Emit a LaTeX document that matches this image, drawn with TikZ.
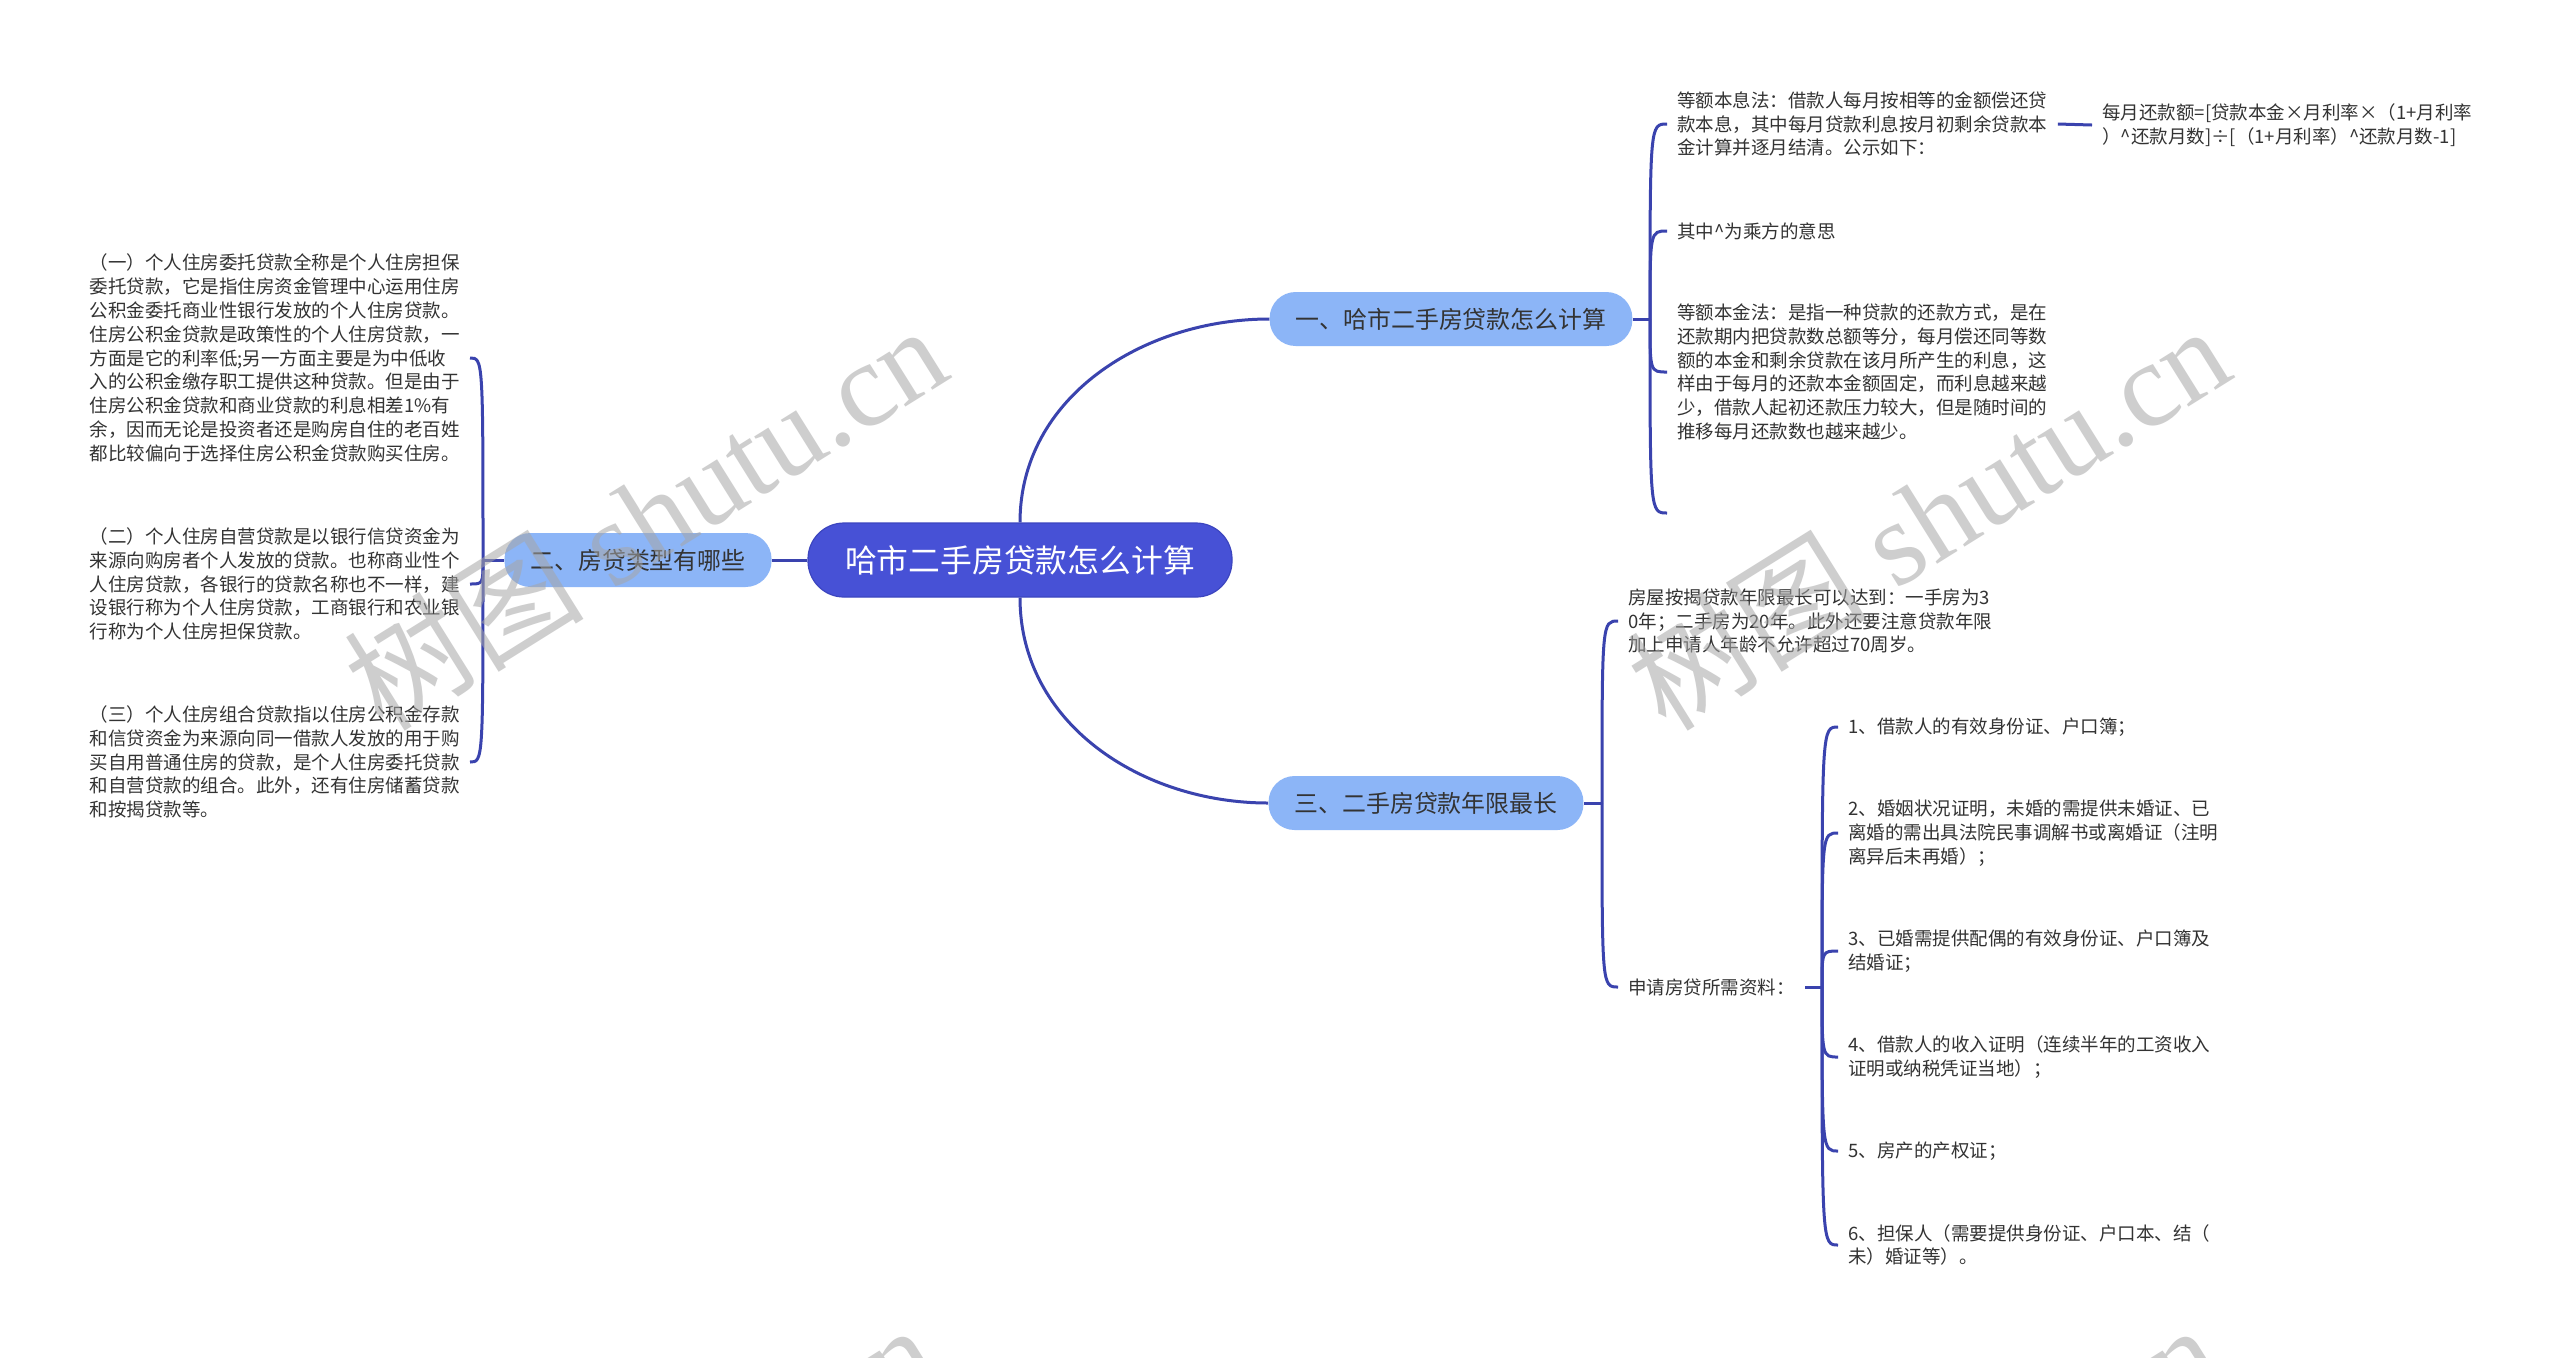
\documentclass[tikz,border=0pt]{standalone}
\usepackage{fontspec}
\newfontfamily\cjk{Noto Sans CJK SC}
\newfontfamily\wmserif{Liberation Serif}
\definecolor{Ink}{HTML}{333333}
\definecolor{Root}{HTML}{4751D6}
\definecolor{RootEdge}{HTML}{3C45BF}
\definecolor{Topic}{HTML}{8CB5F7}
\definecolor{Wire}{HTML}{3A43AE}

\begin{document}
\begin{tikzpicture}[x=.5pt,y=-.5pt,
  rootbox/.style={fill=Root,draw=RootEdge,line width=.6pt,rounded corners=18pt,minimum width=212pt,minimum height=37pt,text=white,font=\cjk\fontsize{15.9pt}{19pt}\selectfont},
  topic/.style={fill=Topic,rounded corners=13pt,minimum height=27pt,inner xsep=13pt,text=Ink,font=\cjk\fontsize{11.95pt}{14pt}\selectfont},
  leaf/.style={inner xsep=5pt,inner ysep=0pt,align=left,text=Ink,font=\cjk\fontsize{9.25pt}{11.9pt}\selectfont},
  wire/.style={draw=Wire,line width=1.5pt},
  wmark/.style={text=black!35,opacity=.55,rotate=32,font=\wmserif\fontsize{60pt}{64pt}\selectfont}]
\useasboundingbox[fill=white] (0,0) rectangle (2560,1357);

\node[rootbox] (root) at (1020,560) {哈市二手房贷款怎么计算};
\node[topic] (b1) at (1451,319) {一、哈市二手房贷款怎么计算};
\node[topic] (b2) at (638,560) {二、房贷类型有哪些};
\node[topic] (b3) at (1426,803) {三、二手房贷款年限最长};

\draw[wire] (root.north) to[out=90,in=180] (b1.west);
\draw[wire] (root.south) to[out=-90,in=180] (b3.west);
\draw[wire] (root.west) -- (b2.east);

\node[leaf,anchor=west] (c11) at (1667,124) {等额本息法：借款人每月按相等的金额偿还贷\\款本息，其中每月贷款利息按月初剩余贷款本\\金计算并逐月结清。公示如下：};
\node[leaf,anchor=west] (f1) at (2092,125) {每月还款额=[贷款本金×月利率×（1+月利率\\）\textasciicircum{}还款月数]÷[（1+月利率）\textasciicircum{}还款月数-1]};
\node[leaf,anchor=west] (c12) at (1667,231) {其中\textasciicircum{}为乘方的意思};
\node[leaf,anchor=west] (c13) at (1667,372) {等额本金法：是指一种贷款的还款方式，是在\\还款期内把贷款数总额等分，每月偿还同等数\\额的本金和剩余贷款在该月所产生的利息，这\\样由于每月的还款本金额固定，而利息越来越\\少，借款人起初还款压力较大，但是随时间的\\推移每月还款数也越来越少。};
\node[leaf,anchor=west] (c14) at (1667,513) {};
\coordinate (k1) at (1650,319);
\draw[wire] (b1.east) -- (k1);
\foreach \c in {c11,c12,c13,c14}
  \draw[wire] (k1) .. controls (k1 |- \c.west) .. (\c.west);
\draw[wire] (c11.east) -- (f1.west);

\node[leaf,anchor=east] (c21) at (470,358) {（一）个人住房委托贷款全称是个人住房担保\\委托贷款，它是指住房资金管理中心运用住房\\公积金委托商业性银行发放的个人住房贷款。\\住房公积金贷款是政策性的个人住房贷款，一\\方面是它的利率低;另一方面主要是为中低收\\入的公积金缴存职工提供这种贷款。但是由于\\住房公积金贷款和商业贷款的利息相差1\%有\\余，因而无论是投资者还是购房自住的老百姓\\都比较偏向于选择住房公积金贷款购买住房。};
\node[leaf,anchor=east] (c22) at (470,584) {（二）个人住房自营贷款是以银行信贷资金为\\来源向购房者个人发放的贷款。也称商业性个\\人住房贷款，各银行的贷款名称也不一样，建\\设银行称为个人住房贷款，工商银行和农业银\\行称为个人住房担保贷款。};
\node[leaf,anchor=east] (c23) at (470,762) {（三）个人住房组合贷款指以住房公积金存款\\和信贷资金为来源向同一借款人发放的用于购\\买自用普通住房的贷款，是个人住房委托贷款\\和自营贷款的组合。此外，还有住房储蓄贷款\\和按揭贷款等。};
\coordinate (k2) at (483,560);
\draw[wire] (b2.west) -- (k2);
\foreach \c in {c21,c22,c23}
  \draw[wire] (k2) .. controls (k2 |- \c.east) .. (\c.east);

\node[leaf,anchor=west] (c31) at (1618,621) {房屋按揭贷款年限最长可以达到：一手房为3\\0年；二手房为20年。此外还要注意贷款年限\\加上申请人年龄不允许超过70周岁。};
\node[leaf,anchor=west] (c32) at (1618,987) {申请房贷所需资料：};
\coordinate (k3) at (1602,803);
\draw[wire] (b3.east) -- (k3);
\foreach \c in {c31,c32}
  \draw[wire] (k3) .. controls (k3 |- \c.west) .. (\c.west);

\node[leaf,anchor=west] (d1) at (1838,727) {1、借款人的有效身份证、户口簿；};
\node[leaf,anchor=west] (d2) at (1838,833) {2、婚姻状况证明，未婚的需提供未婚证、已\\离婚的需出具法院民事调解书或离婚证（注明\\离异后未再婚）；};
\node[leaf,anchor=west] (d3) at (1838,951) {3、已婚需提供配偶的有效身份证、户口簿及\\结婚证；};
\node[leaf,anchor=west] (d4) at (1838,1057) {4、借款人的收入证明（连续半年的工资收入\\证明或纳税凭证当地）；};
\node[leaf,anchor=west] (d5) at (1838,1151) {5、房产的产权证；};
\node[leaf,anchor=west] (d6) at (1838,1245) {6、担保人（需要提供身份证、户口本、结（\\未）婚证等）。};
\coordinate (k32) at (1822,987);
\draw[wire] (c32.east) -- (k32);
\foreach \c in {d1,d2,d3,d4,d5,d6}
  \draw[wire] (k32) .. controls (k32 |- \c.west) .. (\c.west);

\begin{scope}
\clip (0,0) rectangle (2560,1357);
\node[wmark] (w1) at (645,516) {{\cjk 树图} shutu.cn};
\node[wmark] (w2) at (1928,516) {{\cjk 树图} shutu.cn};
\node[wmark] (w3) at (635,1515) {{\cjk 树图} shutu.cn};
\node[wmark] (w4) at (1918,1515) {{\cjk 树图} shutu.cn};
\end{scope}
\end{tikzpicture}
\end{document}
